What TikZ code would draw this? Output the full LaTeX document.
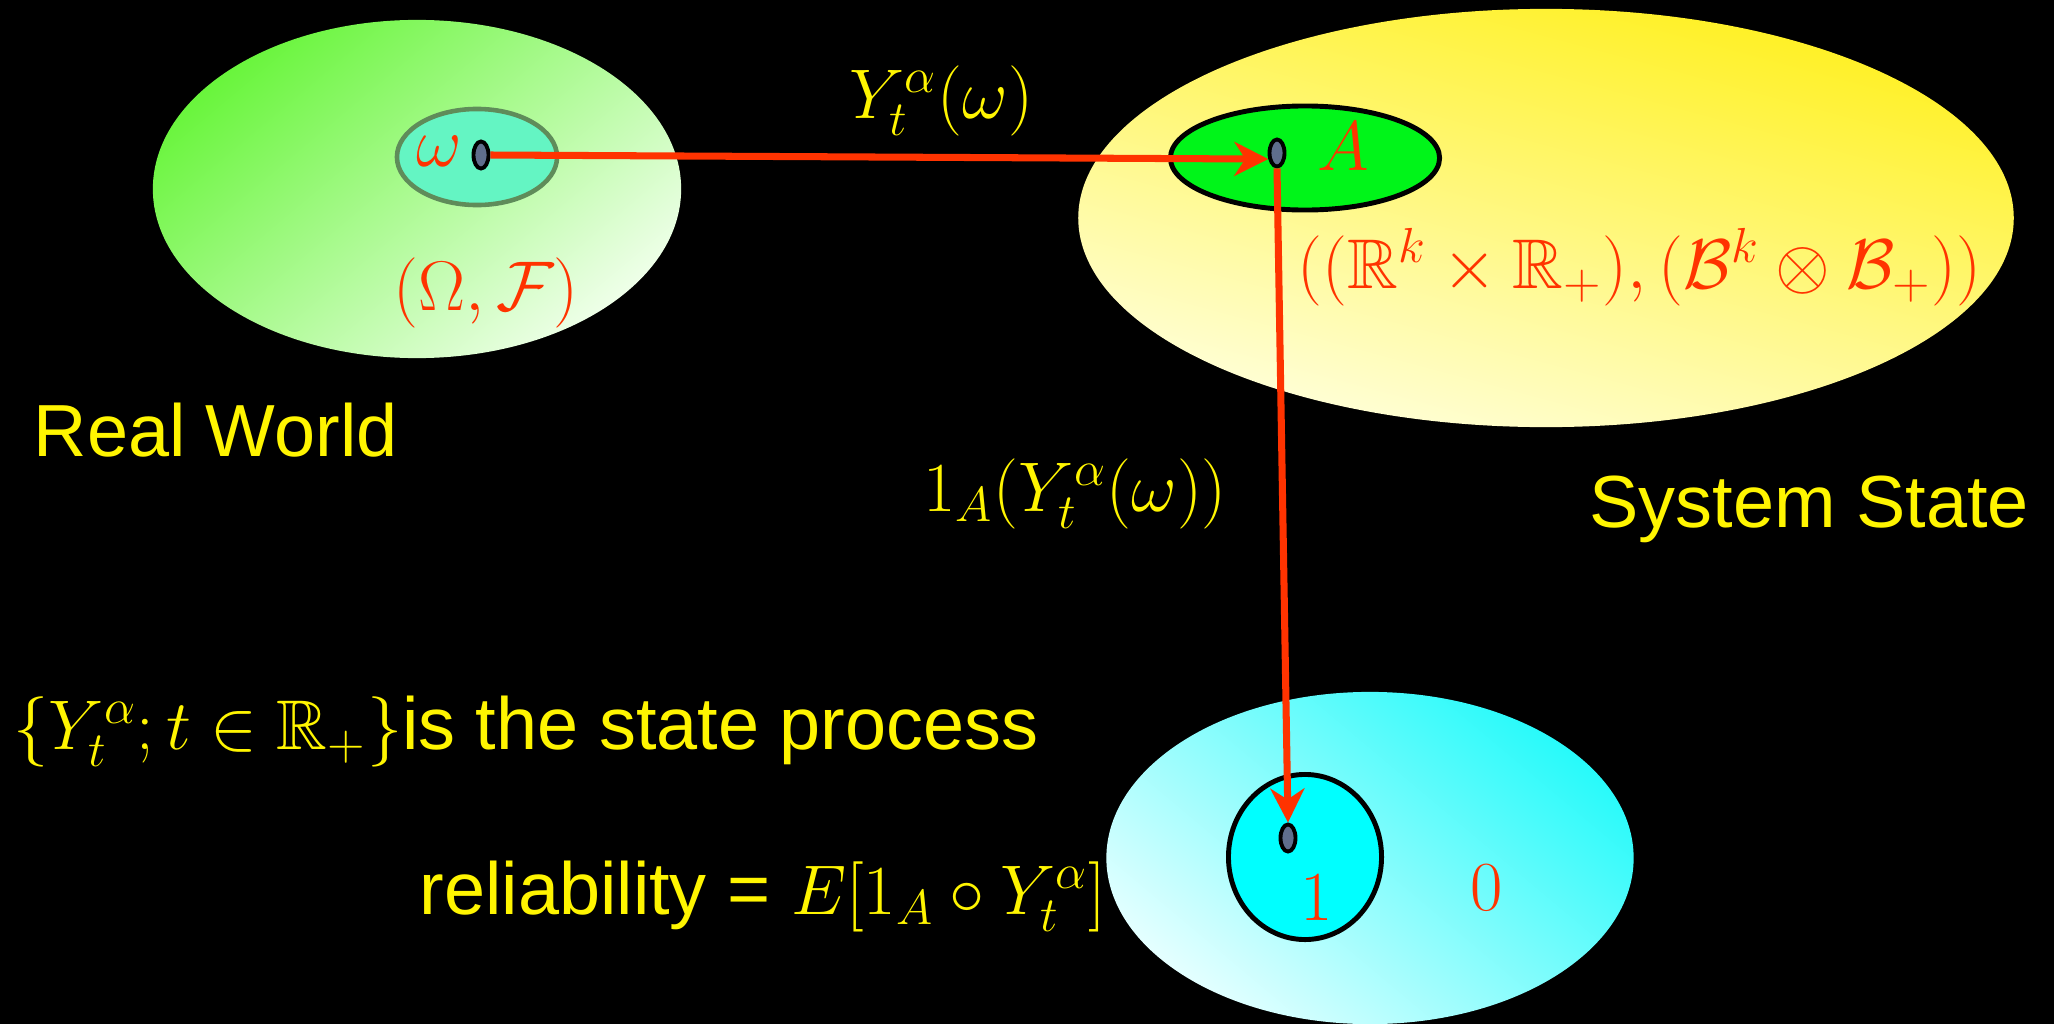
\RequirePackage{fix-cm}
\documentclass[tikz,border=0pt]{standalone}
\usepackage{amsmath,amssymb}
\usepackage{fontspec}
\newfontfamily\labelfont{Liberation Sans}
\usetikzlibrary{shapes.geometric,arrows.meta}
\definecolor{txtyellow}{RGB}{255,245,0}
\definecolor{arrred}{RGB}{255,51,0}
\definecolor{worlddark}{RGB}{105,245,60}
\definecolor{worldlight}{RGB}{238,255,232}
\definecolor{omegafill}{RGB}{100,245,195}
\definecolor{omegaline}{RGB}{95,140,90}
\definecolor{statedark}{RGB}{255,240,30}
\definecolor{statelight}{RGB}{255,255,220}
\definecolor{setA}{RGB}{0,245,25}
\definecolor{reldark}{RGB}{40,250,250}
\definecolor{rellight}{RGB}{228,255,255}
\definecolor{onefill}{RGB}{0,255,255}
\definecolor{dotfill}{RGB}{95,110,140}

\begin{document}
\begin{tikzpicture}[x=.01cm,y=-.01cm,font=\fontsize{20}{24}\selectfont,
  region/.style={ellipse,inner sep=0pt},
  pt/.style={ellipse,draw=black,fill=dotfill,line width=1.1pt,minimum width=.15cm,minimum height=.27cm,inner sep=0pt},
  redlbl/.style={text=arrred,inner sep=0pt},
  yellbl/.style={text=txtyellow,inner sep=0pt},
  sanslbl/.style={yellbl,anchor=base west,font=\labelfont\fontsize{21}{25}\selectfont},
  arr/.style={arrred,line width=2pt,-{Stealth[length=3.4mm,width=3.4mm,inset=1.1mm]}}]
\fill[black] (0,0) rectangle (2054,1024);
\useasboundingbox (0,0) rectangle (2054,1024);
\node[region,top color=worlddark,bottom color=worldlight,shading angle=40,minimum width=5.28cm,minimum height=3.38cm] (world) at (417,189) {};
\node[region,fill=omegafill,draw=omegaline,line width=1.3pt,minimum width=1.6cm,minimum height=.96cm] (omegaset) at (477,157) {};
\node[region,top color=statedark,bottom color=statelight,shading angle=-15,minimum width=9.35cm,minimum height=4.18cm] (state) at (1546,218) {};
\node[region,fill=setA,draw=black,line width=1.4pt,minimum width=2.69cm,minimum height=1.04cm] (setA) at (1305,158) {};
\node[region,top color=reldark,bottom color=rellight,shading angle=-40,minimum width=5.27cm,minimum height=3.32cm] (rel) at (1370,858) {};
\node[region,fill=onefill,draw=black,line width=1.4pt,minimum width=1.53cm,minimum height=1.65cm] (one) at (1305,857) {};
\node[pt] (wdot) at (481,155) {};
\node[pt] (adot) at (1277,153) {};
\node[pt] (bdot) at (1288,838) {};
\node[redlbl,anchor=base] (omegalbl) at (439,166) {$\omega$};
\node[redlbl,anchor=base west] (omegaspace) at (393,310) {$(\Omega,\mathcal{F})$};
\node[redlbl,anchor=base] (Albl) at (1343,170) {$A$};
\node[redlbl,anchor=base west] (statespace) at (1297,288) {$((\mathbb{R}^k\times\mathbb{R}_+),(\mathcal{B}^k\otimes\mathcal{B}_+))$};
\node[redlbl,anchor=base] (onelbl) at (1317,920) {$1$};
\node[redlbl,anchor=base] (zerolbl) at (1487,910) {$0$};
\node[yellbl,anchor=base west] (maplbl) at (849,118) {$Y_t^\alpha(\omega)$};
\node[yellbl,anchor=base west] (indlbl) at (923,511) {$1_A(Y_t^\alpha(\omega))$};
\node[sanslbl] (realworld) at (33,456) {Real World};
\node[sanslbl] (sysstate) at (1589,527) {System State};
\node[sanslbl] (process) at (13,749) {{\fontsize{20}{24}\selectfont$\{Y_t^\alpha;t\in\mathbb{R}_+\}$}is the state process};
\node[sanslbl] (reliab) at (419,914) {reliability = {\fontsize{20}{24}\selectfont$E[1_A\circ Y_t^\alpha]$}};
\draw[arr] (wdot.east) -- (adot.215);
\draw[arr] (adot.south) -- (bdot.north);
\end{tikzpicture}
\end{document}
